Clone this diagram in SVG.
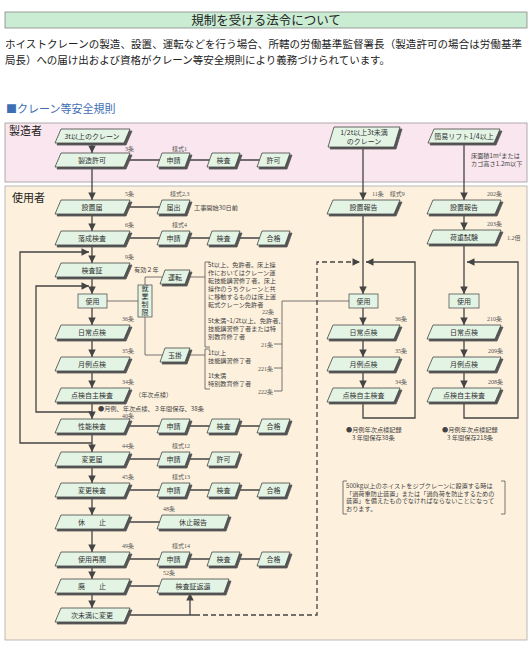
<svg xmlns="http://www.w3.org/2000/svg" width="532" height="648" viewBox="0 0 532 648">
<style>
.nd{fill:#e3f4e5;stroke:#444;stroke-width:0.8;filter:url(#sh)}
.rc{fill:#e3f4e5;stroke:#555;stroke-width:0.8}
.t{font-family:"Noto Sans CJK JP",sans-serif;font-size:7px;fill:#333;text-anchor:middle}
.lb{font-family:"Liberation Serif","Noto Sans CJK JP",serif;font-size:6px;fill:#555}
.e{text-anchor:end}
.ln{stroke:#444;stroke-width:1.3;fill:none}
.th{stroke:#555;stroke-width:0.8;fill:none}
.ar{marker-end:url(#ah)}
.ds{stroke-dasharray:5 3}
.nt{font-family:"Noto Sans CJK JP",serif;font-size:6.2px;fill:#444}
.sec{font-family:"Noto Sans CJK JP",sans-serif;font-size:11px;fill:#222}
</style>
<defs>
<marker id="ah" viewBox="0 0 10 10" refX="10" refY="5" markerWidth="8" markerHeight="7.5" markerUnits="userSpaceOnUse" orient="auto"><path d="M0,0 L10,5 L0,10 Z" fill="#444"/></marker>
<filter id="sh" x="-10%" y="-20%" width="130%" height="170%"><feOffset in="SourceAlpha" dx="1.5" dy="1.5" result="o"/><feFlood flood-color="#555"/><feComposite in2="o" operator="in" result="s"/><feMerge><feMergeNode in="s"/><feMergeNode in="SourceGraphic"/></feMerge></filter>
</defs>
<rect width="532" height="648" fill="#ffffff"/>
<!-- header -->
<rect x="5" y="12" width="522" height="16" fill="#c9ecd3" stroke="#888" stroke-width="0.8"/>
<text x="266" y="24.5" font-family="Noto Sans CJK JP,sans-serif" font-size="12.5" fill="#222" text-anchor="middle">規制を受ける法令について</text>
<text x="5" y="48" font-family="Noto Sans CJK JP,sans-serif" font-size="10.5" fill="#222" textLength="517" lengthAdjust="spacing">ホイストクレーンの製造、設置、運転などを行う場合、所轄の労働基準監督署長（製造許可の場合は労働基準</text>
<text x="5" y="64" font-family="Noto Sans CJK JP,sans-serif" font-size="10.5" fill="#222" textLength="385" lengthAdjust="spacing">局長）への届け出および資格がクレーン等安全規則により義務づけられています。</text>
<text x="6" y="113" font-family="Noto Sans CJK JP,sans-serif" font-size="11" fill="#3d6eb4">■クレーン等安全規則</text>
<!-- sections -->
<rect x="5" y="123" width="522" height="59" fill="#fae6ee" stroke="#999" stroke-width="0.8"/>
<rect x="5" y="186" width="522" height="454" fill="#fdf1dd" stroke="#aaa" stroke-width="0.8"/>
<text class="sec" x="9" y="135">製造者</text>
<text class="sec" x="12" y="202">使用者</text>

<!-- connectors -->
<g id="connectors">
<path class="ln ar" d="M92 143V153"/>
<path class="ln ar" d="M92 167V200"/>
<path class="ln ar" d="M92 214V231"/>
<path class="ln ar" d="M92 245V263"/>
<path class="ln ar" d="M92 277V294"/>
<path class="ln ar" d="M92 308V325"/>
<path class="ln ar" d="M92 339V357"/>
<path class="ln ar" d="M92 371V388"/>
<path class="ln ar" d="M92 402V419"/>
<path class="ln ar" d="M92 433V452"/>
<path class="ln ar" d="M92 466V483"/>
<path class="ln ar" d="M92 497V515"/>
<path class="ln ar" d="M92 529V552"/>
<path class="ln ar" d="M92 566V579"/>
<path class="ln ar" d="M92 593V608"/>
<path class="ln ar" d="M92 443H20V252H89"/>
<path class="ln ar" d="M92 412H36V286H89"/>
<path class="ln" d="M127 160H160M188 160H210M238 160H260"/>
<path class="ln" d="M127 207H160"/>
<path class="ln" d="M127 238H160M188 238H210M238 238H260"/>
<path class="ln" d="M127 426H160M188 426H210M238 426H260"/>
<path class="ln" d="M127 459H160M188 459H210"/>
<path class="ln" d="M127 490H160M188 490H210M238 490H260"/>
<path class="ln" d="M127 522H160"/>
<path class="ln" d="M127 559H160M188 559H210M238 559H260"/>
<path class="ln" d="M127 586H160"/>
<path class="ln" d="M127 615H195"/>
<path class="ln ar" d="M190 615V593"/>
<path class="ln ds ar" d="M195 615H317V262H360"/>
<path class="th" d="M107 301H138"/>
<path class="th" d="M145 285V277H162M145 317V355H164"/>
<path class="th" d="M188 277H205M188 355H205"/>
<path class="th" d="M210 262H205V347H210M210 349H205V389H210"/>
<path class="th" d="M282 301H349M282 301V391M274 344H282M274 368H282M274 391H282"/>
<path class="ln ar" d="M363 147V200"/>
<path class="ln ar" d="M363 214V294"/>
<path class="ln ar" d="M363 308V325"/>
<path class="ln ar" d="M363 339V357"/>
<path class="ln ar" d="M363 371V388"/>
<path class="ln ar" d="M363 402V418H415V262H366"/>
<path class="ln ar" d="M464 143V200"/>
<path class="ln ar" d="M464 214V230"/>
<path class="ln ar" d="M464 244V294"/>
<path class="ln ar" d="M464 308V325"/>
<path class="ln ar" d="M464 339V357"/>
<path class="ln ar" d="M464 371V388"/>
<path class="ln ar" d="M464 402V418H518V262H467"/>
</g>

<!-- left column -->
<g id="n-3t"><path class="nd" d="M61 129H130L124 143H55Z"/><text class="t" x="92" y="138.5">3t以上のクレーン</text></g>
<g id="n-seizo"><path class="nd" d="M61 153H130L124 167H55Z"/><text class="t" x="92" y="162.5">製造許可</text></g>
<g id="n-seizo-sh"><path class="nd" d="M162 153H190L185 167H157Z"/><text class="t" x="173.5" y="162.5">申請</text></g>
<g id="n-seizo-ke"><path class="nd" d="M212 153H240L235 167H207Z"/><text class="t" x="223.5" y="162.5">検査</text></g>
<g id="n-seizo-ky"><path class="nd" d="M262 153H290L285 167H257Z"/><text class="t" x="273.5" y="162.5">許可</text></g>
<text class="lb e" x="134" y="151">3条</text><text class="lb" x="172" y="151">様式1</text>

<g id="n-setti"><path class="nd" d="M61 200H130L124 214H55Z"/><text class="t" x="92" y="209.5">設置届</text></g>
<g id="n-todoke"><path class="nd" d="M162 200H190L185 214H157Z"/><text class="t" x="173.5" y="209.5">届出</text></g>
<text class="lb e" x="134" y="196">5条</text><text class="lb" x="170" y="196">様式2,3</text>
<text class="nt" x="194" y="210">工事開始30日前</text>

<g id="n-rakusei"><path class="nd" d="M61 231H130L124 245H55Z"/><text class="t" x="92" y="240.5">落成検査</text></g>
<g id="n-rk-sh"><path class="nd" d="M162 231H190L185 245H157Z"/><text class="t" x="173.5" y="240.5">申請</text></g>
<g id="n-rk-ke"><path class="nd" d="M212 231H240L235 245H207Z"/><text class="t" x="223.5" y="240.5">検査</text></g>
<g id="n-rk-go"><path class="nd" d="M262 231H290L285 245H257Z"/><text class="t" x="273.5" y="240.5">合格</text></g>
<text class="lb e" x="134" y="227">6条</text><text class="lb" x="172" y="227">様式4</text>

<g id="n-kensasho"><path class="nd" d="M61 263H130L124 277H55Z"/><text class="t" x="92" y="272.5">検査証</text></g>
<text class="lb e" x="134" y="259">9条</text>
<text class="nt" x="134" y="272">有効２年</text>

<g id="n-shiyo"><rect class="rc" x="78" y="294" width="29" height="14"/><text class="t" x="92.5" y="303.5">使用</text></g>
<g id="n-shugyo"><rect class="rc" x="138" y="285" width="14" height="32"/><text class="t" x="145" y="301" font-size="6.5" writing-mode="vertical-rl" letter-spacing="1">就業制限</text></g>
<g id="n-unten"><path class="nd" d="M165 270H190L185 284H160Z"/><text class="t" x="175" y="279.5">運転</text></g>
<g id="n-tamakake"><path class="nd" d="M165 348H190L185 362H160Z"/><text class="t" x="175" y="357.5">玉掛</text></g>

<g id="notes-qual" class="nt">
<text x="208" y="267">5t以上、免許者。床上操</text>
<text x="208" y="275">作においてはクレーン運</text>
<text x="208" y="283">転技能講習修了者。床上</text>
<text x="208" y="291">操作のうちクレーンと共</text>
<text x="208" y="299">に移動するものは床上運</text>
<text x="208" y="307">転式クレーン免許者</text>
<text class="lb e" x="274" y="314">22条</text>
<text x="208" y="323">5t未満~1/2t以上、免許者、</text>
<text x="208" y="331">技能講習修了者または特</text>
<text x="208" y="339">別教育修了者</text>
<text class="lb e" x="273" y="346.5">21条</text>
<text x="208" y="355">1t以上</text>
<text x="208" y="363">技能講習修了者</text>
<text class="lb e" x="273" y="370.5">221条</text>
<text x="208" y="378">1t未満</text>
<text x="208" y="386">特別教育修了者</text>
<text class="lb e" x="273" y="393.5">222条</text>
</g>

<g id="n-nichijo"><path class="nd" d="M61 325H130L124 339H55Z"/><text class="t" x="92" y="334.5">日常点検</text></g>
<text class="lb e" x="134" y="321">36条</text>
<g id="n-getsurei"><path class="nd" d="M61 357H130L124 371H55Z"/><text class="t" x="92" y="366.5">月例点検</text></g>
<text class="lb e" x="134" y="353">35条</text>
<g id="n-jishu"><path class="nd" d="M61 388H130L124 402H55Z"/><text class="t" x="92" y="397.5">点検自主検査</text></g>
<text class="lb e" x="134" y="384">34条</text>
<text class="nt" x="135" y="397">（年次点検）</text>
<text class="nt" x="98" y="411" font-size="5.8">●月例、年次点検、３年間保存、38条</text>

<g id="n-seino"><path class="nd" d="M61 419H130L124 433H55Z"/><text class="t" x="92" y="428.5">性能検査</text></g>
<g id="n-sn-sh"><path class="nd" d="M162 419H190L185 433H157Z"/><text class="t" x="173.5" y="428.5">申請</text></g>
<g id="n-sn-ke"><path class="nd" d="M212 419H240L235 433H207Z"/><text class="t" x="223.5" y="428.5">検査</text></g>
<g id="n-sn-go"><path class="nd" d="M262 419H290L285 433H257Z"/><text class="t" x="273.5" y="428.5">合格</text></g>
<text class="lb e" x="134" y="418">40条</text>

<g id="n-henko"><path class="nd" d="M61 452H130L124 466H55Z"/><text class="t" x="92" y="461.5">変更届</text></g>
<g id="n-hk-sh"><path class="nd" d="M162 452H190L185 466H157Z"/><text class="t" x="173.5" y="461.5">申請</text></g>
<g id="n-hk-ky"><path class="nd" d="M212 452H240L235 466H207Z"/><text class="t" x="223.5" y="461.5">許可</text></g>
<text class="lb e" x="134" y="448">44条</text><text class="lb" x="172" y="448">様式12</text>

<g id="n-henkokensa"><path class="nd" d="M61 483H130L124 497H55Z"/><text class="t" x="92" y="492.5">変更検査</text></g>
<g id="n-hs-sh"><path class="nd" d="M162 483H190L185 497H157Z"/><text class="t" x="173.5" y="492.5">申請</text></g>
<g id="n-hs-ke"><path class="nd" d="M212 483H240L235 497H207Z"/><text class="t" x="223.5" y="492.5">検査</text></g>
<g id="n-hs-go"><path class="nd" d="M262 483H290L285 497H257Z"/><text class="t" x="273.5" y="492.5">合格</text></g>
<text class="lb e" x="134" y="479">45条</text><text class="lb" x="172" y="479">様式13</text>

<g id="n-kyushi"><path class="nd" d="M61 515H130L124 529H55Z"/><text class="t" x="92" y="524.5">休　　止</text></g>
<g id="n-kyushihokoku"><path class="nd" d="M162 515H229L224 529H157Z"/><text class="t" x="193" y="524.5">休止報告</text></g>
<text class="lb" x="163" y="511">48条</text>

<g id="n-saikai"><path class="nd" d="M61 552H130L124 566H55Z"/><text class="t" x="92" y="561.5">使用再開</text></g>
<g id="n-sk-sh"><path class="nd" d="M162 552H190L185 566H157Z"/><text class="t" x="173.5" y="561.5">申請</text></g>
<g id="n-sk-ke"><path class="nd" d="M212 552H240L235 566H207Z"/><text class="t" x="223.5" y="561.5">検査</text></g>
<g id="n-sk-go"><path class="nd" d="M262 552H290L285 566H257Z"/><text class="t" x="273.5" y="561.5">合格</text></g>
<text class="lb e" x="134" y="548">49条</text><text class="lb" x="172" y="548">様式14</text>

<g id="n-haishi"><path class="nd" d="M61 579H130L124 593H55Z"/><text class="t" x="92" y="588.5">廃　　止</text></g>
<g id="n-henkan"><path class="nd" d="M162 579H229L224 593H157Z"/><text class="t" x="193" y="588.5">検査証返還</text></g>
<text class="lb" x="163" y="575">52条</text>

<g id="n-miman"><path class="nd" d="M61 608H130L124 622H55Z"/><text class="t" x="92" y="617.5">次未満に変更</text></g>

<!-- middle column -->
<g id="m-top"><path class="nd" d="M334 127H400L394 147H328Z"/><text class="t" x="364" y="134.8" font-size="6">1/2t以上3t未満</text><text class="t" x="364" y="143.5" font-size="6">のクレーン</text></g>
<text class="lb" x="372" y="196">11条　様式9</text>
<g id="m-setti"><path class="nd" d="M333 200H400L394 214H327Z"/><text class="t" x="363.5" y="209.5">設置報告</text></g>
<g id="m-shiyo"><rect class="rc" x="349" y="294" width="29" height="14"/><text class="t" x="363.5" y="303.5">使用</text></g>
<text class="lb e" x="407" y="321">36条</text>
<g id="m-nichijo"><path class="nd" d="M333 325H400L394 339H327Z"/><text class="t" x="363.5" y="334.5">日常点検</text></g>
<text class="lb e" x="407" y="353">35条</text>
<g id="m-getsurei"><path class="nd" d="M333 357H400L394 371H327Z"/><text class="t" x="363.5" y="366.5">月例点検</text></g>
<text class="lb e" x="407" y="384">34条</text>
<g id="m-jishu"><path class="nd" d="M333 388H400L394 402H327Z"/><text class="t" x="363.5" y="397.5">点検自主検査</text></g>
<text class="nt" x="346" y="432">●月例年次点検記録</text>
<text class="nt" x="352" y="440">3 年間保存38条</text>

<!-- right column -->
<g id="r-top"><path class="nd" d="M434 129H500L494 143H428Z"/><text class="t" x="464" y="138.5">簡易リフト1/4以上</text></g>
<text class="nt" x="471" y="158">床面積1m²または</text>
<text class="nt" x="471" y="166">カゴ高さ1.2m以下</text>
<text class="lb e" x="502" y="196">202条</text>
<g id="r-setti"><path class="nd" d="M433 200H501L495 214H427Z"/><text class="t" x="464" y="209.5">設置報告</text></g>
<text class="lb e" x="502" y="226">203条</text>
<g id="r-kaju"><path class="nd" d="M433 230H501L495 244H427Z"/><text class="t" x="464" y="239.5">荷重試験</text></g>
<text class="lb" x="507" y="240">1.2倍</text>
<g id="r-shiyo"><rect class="rc" x="449" y="294" width="30" height="14"/><text class="t" x="464" y="303.5">使用</text></g>
<text class="lb e" x="502" y="321">210条</text>
<g id="r-nichijo"><path class="nd" d="M433 325H501L495 339H427Z"/><text class="t" x="464" y="334.5">日常点検</text></g>
<text class="lb e" x="503" y="353">209条</text>
<g id="r-getsurei"><path class="nd" d="M433 357H501L495 371H427Z"/><text class="t" x="464" y="366.5">月例点検</text></g>
<text class="lb e" x="503" y="384">208条</text>
<g id="r-jishu"><path class="nd" d="M433 388H501L495 402H427Z"/><text class="t" x="464" y="397.5">点検自主検査</text></g>
<text class="nt" x="442" y="432">●月例年次点検記録</text>
<text class="nt" x="447" y="440">3 年間保存218条</text>

<!-- note -->
<g id="note">
<path class="th" d="M347 481H343V514H347M501 481H505V514H501"/>
<text class="nt" x="346" y="487.5" font-size="6">500kg以上のホイストをジブクレーンに設置する時は</text>
<text class="nt" x="346" y="495.5" font-size="6">「過荷重防止装置」または「過負荷を防止するための</text>
<text class="nt" x="346" y="503" font-size="6">装置」を備えたものでなければならないことになって</text>
<text class="nt" x="346" y="510.5" font-size="6">おります。</text>
</g>
</svg>
